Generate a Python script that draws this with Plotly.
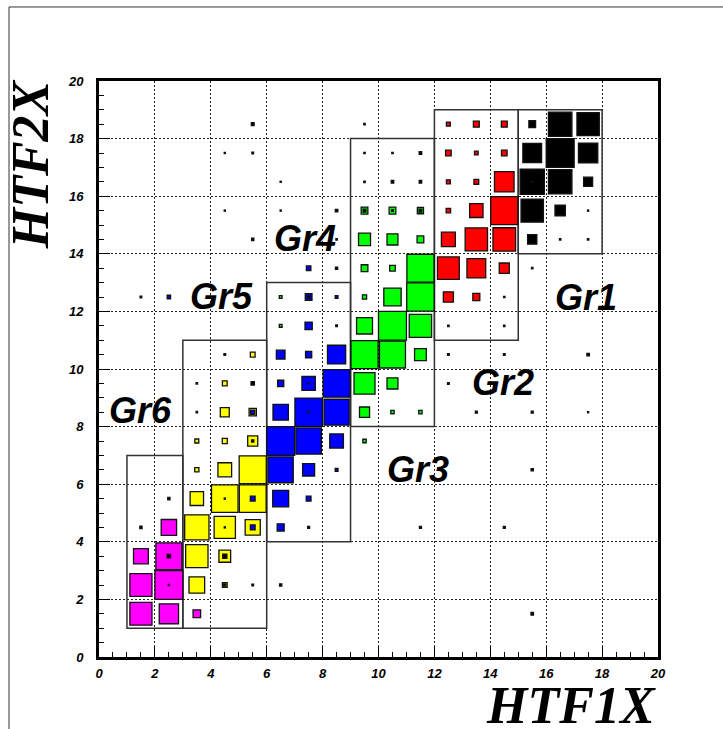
import plotly.graph_objects as go

# Content that fills a whole bin (box side = content / HMAX of a bin width)
HMAX = 100.0

# Each entry: (bin centre x, bin centre y, content)
gr6_cells = [
    (1.5, 1.5, 79), (2.5, 1.5, 69), (3.5, 1.5, 27),
    (1.5, 2.5, 79), (2.5, 2.5, 100),
    (1.5, 3.5, 53), (2.5, 3.5, 93),
    (2.5, 4.5, 55),
]

gr5_cells = [
    (3.5, 2.5, 56), (4.5, 2.5, 17),
    (3.5, 3.5, 80), (4.5, 3.5, 42),
    (3.5, 4.5, 87), (4.5, 4.5, 76), (5.5, 4.5, 54),
    (3.5, 5.5, 48), (4.5, 5.5, 95), (5.5, 5.5, 96),
    (3.5, 6.5, 15), (4.5, 6.5, 49), (5.5, 6.5, 97),
    (3.5, 7.5, 14), (4.5, 7.5, 18), (5.5, 7.5, 36),
    (4.5, 8.5, 32), (5.5, 8.5, 26),
    (4.5, 9.5, 17),
    (5.5, 10.5, 17),
]

gr4_cells = [
    (5.5, 4.5, 17), (6.5, 4.5, 25),
    (5.5, 5.5, 17), (6.5, 5.5, 57), (7.5, 5.5, 17),
    (6.5, 6.5, 90), (7.5, 6.5, 43), (8.5, 6.5, 10),
    (6.5, 7.5, 100), (7.5, 7.5, 91), (8.5, 7.5, 49),
    (5.5, 8.5, 15), (6.5, 8.5, 55), (7.5, 8.5, 98), (8.5, 8.5, 90),
    (6.5, 9.5, 22), (7.5, 9.5, 48), (8.5, 9.5, 96),
    (6.5, 10.5, 31), (7.5, 10.5, 22), (8.5, 10.5, 65),
    (7.5, 11.5, 26),
    (2.5, 12.5, 12), (7.5, 12.5, 24), (8.5, 12.5, 10),
    (7.5, 13.5, 16),
]

gr3_cells = [
    (9.5, 7.5, 12),
    (9.5, 8.5, 36), (10.5, 8.5, 12), (11.5, 8.5, 12),
    (9.5, 9.5, 75), (10.5, 9.5, 39),
    (9.5, 10.5, 97), (10.5, 10.5, 93), (11.5, 10.5, 42),
    (6.5, 11.5, 10), (9.5, 11.5, 57), (10.5, 11.5, 100), (11.5, 11.5, 80),
    (6.5, 12.5, 10), (9.5, 12.5, 15), (10.5, 12.5, 62), (11.5, 12.5, 98),
    (9.5, 13.5, 24), (10.5, 13.5, 20), (11.5, 13.5, 97),
    (9.5, 14.5, 43), (10.5, 14.5, 39), (11.5, 14.5, 24),
    (9.5, 15.5, 24), (10.5, 15.5, 24), (11.5, 15.5, 22),
]

gr2_cells = [
    (12.5, 12.5, 36), (13.5, 12.5, 25),
    (12.5, 13.5, 78), (13.5, 13.5, 67), (14.5, 13.5, 36),
    (12.5, 14.5, 50), (13.5, 14.5, 80), (14.5, 14.5, 81),
    (12.5, 15.5, 16), (13.5, 15.5, 48), (14.5, 15.5, 97),
    (12.5, 16.5, 14), (13.5, 16.5, 17), (14.5, 16.5, 70), (15.5, 16.5, 4),
    (12.5, 17.5, 20), (13.5, 17.5, 13), (14.5, 17.5, 20),
    (12.5, 18.5, 14), (13.5, 18.5, 21), (14.5, 18.5, 21),
]

gr1_cells = [
    (15.5, 13.5, 5),
    (15.5, 14.5, 33), (16.5, 14.5, 5), (17.5, 14.5, 5),
    (15.5, 15.5, 80), (16.5, 15.5, 37), (17.5, 15.5, 4),
    (15.5, 16.5, 87), (16.5, 16.5, 84), (17.5, 16.5, 32),
    (15.5, 17.5, 67), (16.5, 17.5, 100), (17.5, 17.5, 69),
    (15.5, 18.5, 24), (16.5, 18.5, 84), (17.5, 18.5, 80),
]

# Entries outside every selection
rest_cells = [
    (15.5, 1.5, 9), (5.5, 2.5, 6), (6.5, 2.5, 8),
    (1.5, 4.5, 8), (7.5, 4.5, 7), (11.5, 4.5, 7), (14.5, 4.5, 7),
    (2.5, 5.5, 8), (15.5, 6.5, 8),
    (3.5, 8.5, 5), (13.5, 8.5, 7), (15.5, 8.5, 7), (17.5, 8.5, 4),
    (3.5, 9.5, 5), (5.5, 9.5, 12), (12.5, 9.5, 6),
    (4.5, 10.5, 6), (12.5, 10.5, 6), (14.5, 10.5, 6), (17.5, 10.5, 9),
    (8.5, 11.5, 6), (12.5, 11.5, 5), (14.5, 11.5, 5),
    (1.5, 12.5, 6), (14.5, 12.5, 5),
    (8.5, 13.5, 8), (5.5, 14.5, 8), (8.5, 14.5, 5),
    (4.5, 15.5, 4), (6.5, 15.5, 4), (8.5, 15.5, 9),
    (6.5, 16.5, 4), (9.5, 16.5, 5), (10.5, 16.5, 9), (11.5, 16.5, 9),
    (4.5, 17.5, 4), (5.5, 17.5, 6), (9.5, 17.5, 5), (10.5, 17.5, 5), (11.5, 17.5, 9),
    (5.5, 18.5, 10), (9.5, 18.5, 5),
    (2.5, 2.5, 4), (4.5, 2.5, 8), (2.5, 3.5, 12), (4.5, 3.5, 15),
    (4.5, 4.5, 4), (4.5, 5.5, 4), (5.5, 7.5, 8),
    (7.5, 8.5, 4), (7.5, 9.5, 4), (7.5, 12.5, 10),
    (9.5, 15.5, 10), (10.5, 15.5, 6), (11.5, 15.5, 10),
]

group_colors = {
    "Gr6": "#ff00ff", "Gr5": "#ffff00", "Gr4": "#0000ff",
    "Gr3": "#00ff00", "Gr2": "#ff0000", "Gr1": "#000000", "rest": "#000000",
}
group_cells = {
    "Gr6": gr6_cells, "Gr5": gr5_cells, "Gr4": gr4_cells,
    "Gr3": gr3_cells, "Gr2": gr2_cells, "Gr1": gr1_cells, "rest": rest_cells,
}

# Selection windows: (x0, x1, y0, y1)
group_windows = {
    "Gr6": (1, 3, 1, 7), "Gr5": (3, 6, 1, 11), "Gr4": (6, 9, 4, 13),
    "Gr3": (9, 12, 8, 18), "Gr2": (12, 15, 11, 19), "Gr1": (15, 18, 14, 19),
}
# Where each group's name is written
group_label_pos = {
    "Gr1": (17.42, 12.48), "Gr2": (14.45, 9.52), "Gr3": (11.4, 6.52),
    "Gr4": (7.38, 14.52), "Gr5": (4.4, 12.52), "Gr6": (1.5, 8.55),
}

X_RANGE = [0, 20]
Y_RANGE = [0, 20]
tick_vals = list(range(0, 21, 2))

shapes = []

# selection window outlines
for name, (x0, x1, y0, y1) in group_windows.items():
    shapes.append(dict(type="rect", xref="x", yref="y", x0=x0, x1=x1, y0=y0, y1=y1,
                       line=dict(color="#333333", width=1.5), fillcolor="rgba(0,0,0,0)",
                       layer="above"))

# boxes: biggest first so smaller contents stay visible on top
boxes = []
for name, cells in group_cells.items():
    for cx, cy, v in cells:
        boxes.append((v, cx, cy, group_colors[name]))
boxes.sort(key=lambda b: -b[0])
for v, cx, cy, col in boxes:
    half = 0.5 * v / HMAX
    shapes.append(dict(type="rect", xref="x", yref="y",
                       x0=cx - half, x1=cx + half, y0=cy - half, y1=cy + half,
                       fillcolor=col, line=dict(color="#111111", width=1.3),
                       layer="above"))

# canvas border (top and left edges)
shapes.append(dict(type="line", xref="paper", yref="paper", x0=-0.161, x1=1.3,
                   y0=1.1285, y1=1.1285, line=dict(color="#333333", width=1)))
shapes.append(dict(type="line", xref="paper", yref="paper", x0=-0.161, x1=-0.161,
                   y0=-0.3, y1=1.1285, line=dict(color="#333333", width=1)))

annotations = []
for name, (lx, ly) in group_label_pos.items():
    annotations.append(dict(x=lx, y=ly, xref="x", yref="y", text=name, showarrow=False,
                            xanchor="center", yanchor="middle",
                            font=dict(family="Liberation Sans", size=36, color="black",
                                      weight="bold", style="italic")))

annotations.append(dict(x=1.0, y=-0.0835, xref="paper", yref="paper", text="HTF1X",
                        showarrow=False, xanchor="right", yanchor="middle",
                        font=dict(family="Liberation Serif", size=52, color="black",
                                  weight="bold", style="italic")))
annotations.append(dict(x=-0.122, y=0.855, xref="paper", yref="paper", text="HTF2X",
                        showarrow=False, textangle=-90, xanchor="center", yanchor="middle",
                        font=dict(family="Liberation Serif", size=52, color="black",
                                  weight="bold", style="italic")))

tick_font = dict(family="Liberation Sans", size=13, color="black",
                 weight="bold", style="italic")

axis_common = dict(
    range=None, tickmode="array", tickvals=tick_vals,
    ticktext=[str(t) for t in tick_vals],
    showgrid=True, gridcolor="#222222", gridwidth=1, griddash="2px,2px",
    zeroline=False, showline=True, linecolor="black", linewidth=3, mirror=True,
    ticks="inside", ticklen=11, tickwidth=1, tickcolor="black",
    minor=dict(dtick=0.5, tick0=0, ticks="inside", ticklen=5, tickcolor="black",
               tickwidth=1, showgrid=False),
    tickfont=tick_font, fixedrange=True,
)

fig = go.Figure()
fig.add_trace(go.Scatter(x=[], y=[], mode="markers", showlegend=False, hoverinfo="skip"))

xa = dict(axis_common); xa["range"] = X_RANGE; xa["ticklabelstandoff"] = 2
ya = dict(axis_common); ya["range"] = Y_RANGE; ya["ticklabelstandoff"] = 10

fig.update_layout(
    width=723, height=729,
    margin=dict(l=99, r=65, t=81, b=72, pad=0),
    paper_bgcolor="white", plot_bgcolor="white",
    xaxis=xa, yaxis=ya,
    shapes=shapes, annotations=annotations,
    showlegend=False,
)

fig.write_html("out.html")
